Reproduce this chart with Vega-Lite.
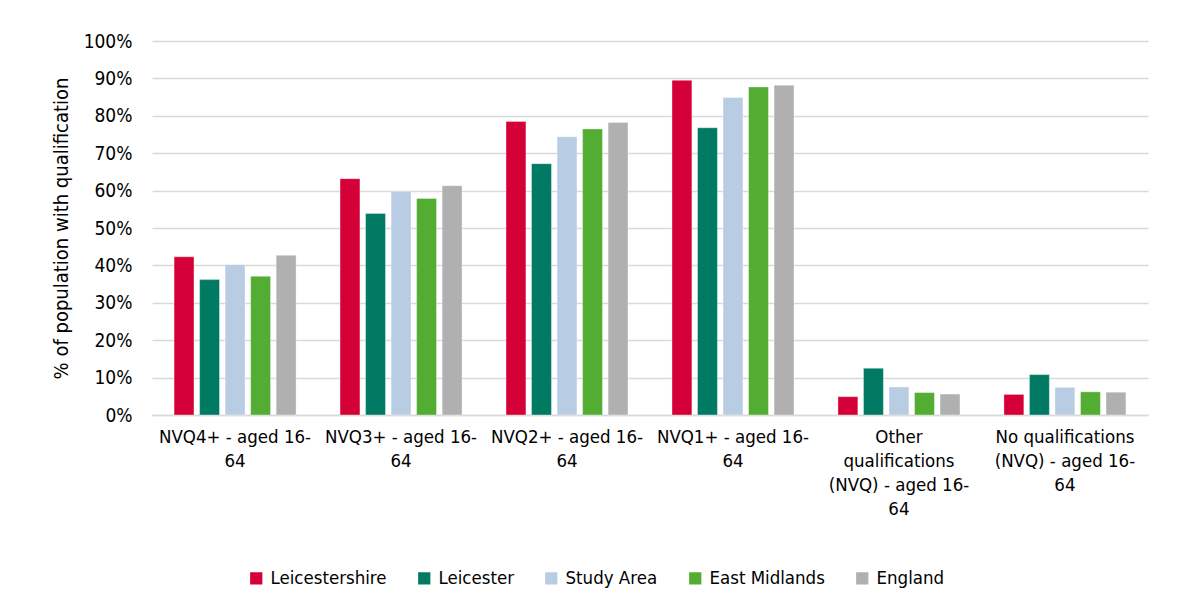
{
  "$schema": "https://vega.github.io/schema/vega-lite/v6.json",
  "width": 996,
  "height": 374,
  "autosize": {"type": "none"},
  "padding": {"left": 152, "top": 41, "right": 33, "bottom": 193},
  "background": "white",
  "config": {
    "font": "DejaVu Sans Condensed, Liberation Sans",
    "view": {"stroke": null},
    "axis": {"labelFont": "DejaVu Sans Condensed, Liberation Sans", "titleFont": "DejaVu Sans Condensed, Liberation Sans", "labelColor": "#000000", "titleColor": "#000000"},
    "legend": {"labelFont": "DejaVu Sans Condensed, Liberation Sans"}
  },
  "data": {
    "values": [
      {"cat": "NVQ4+ - aged 16-64", "area": "Leicestershire", "v": 42.3},
      {"cat": "NVQ4+ - aged 16-64", "area": "Leicester", "v": 36.2},
      {"cat": "NVQ4+ - aged 16-64", "area": "Study Area", "v": 40.2},
      {"cat": "NVQ4+ - aged 16-64", "area": "East Midlands", "v": 37.1},
      {"cat": "NVQ4+ - aged 16-64", "area": "England", "v": 42.7},
      {"cat": "NVQ3+ - aged 16-64", "area": "Leicestershire", "v": 63.2},
      {"cat": "NVQ3+ - aged 16-64", "area": "Leicester", "v": 53.9},
      {"cat": "NVQ3+ - aged 16-64", "area": "Study Area", "v": 59.8},
      {"cat": "NVQ3+ - aged 16-64", "area": "East Midlands", "v": 57.9},
      {"cat": "NVQ3+ - aged 16-64", "area": "England", "v": 61.3},
      {"cat": "NVQ2+ - aged 16-64", "area": "Leicestershire", "v": 78.5},
      {"cat": "NVQ2+ - aged 16-64", "area": "Leicester", "v": 67.2},
      {"cat": "NVQ2+ - aged 16-64", "area": "Study Area", "v": 74.4},
      {"cat": "NVQ2+ - aged 16-64", "area": "East Midlands", "v": 76.5},
      {"cat": "NVQ2+ - aged 16-64", "area": "England", "v": 78.2},
      {"cat": "NVQ1+ - aged 16-64", "area": "Leicestershire", "v": 89.5},
      {"cat": "NVQ1+ - aged 16-64", "area": "Leicester", "v": 76.8},
      {"cat": "NVQ1+ - aged 16-64", "area": "Study Area", "v": 84.9},
      {"cat": "NVQ1+ - aged 16-64", "area": "East Midlands", "v": 87.7},
      {"cat": "NVQ1+ - aged 16-64", "area": "England", "v": 88.2},
      {"cat": "Other qualifications (NVQ) - aged 16-64", "area": "Leicestershire", "v": 4.9},
      {"cat": "Other qualifications (NVQ) - aged 16-64", "area": "Leicester", "v": 12.5},
      {"cat": "Other qualifications (NVQ) - aged 16-64", "area": "Study Area", "v": 7.5},
      {"cat": "Other qualifications (NVQ) - aged 16-64", "area": "East Midlands", "v": 6.0},
      {"cat": "Other qualifications (NVQ) - aged 16-64", "area": "England", "v": 5.6},
      {"cat": "No qualifications (NVQ) - aged 16-64", "area": "Leicestershire", "v": 5.5},
      {"cat": "No qualifications (NVQ) - aged 16-64", "area": "Leicester", "v": 10.8},
      {"cat": "No qualifications (NVQ) - aged 16-64", "area": "Study Area", "v": 7.4},
      {"cat": "No qualifications (NVQ) - aged 16-64", "area": "East Midlands", "v": 6.2},
      {"cat": "No qualifications (NVQ) - aged 16-64", "area": "England", "v": 6.1}
    ]
  },
  "mark": {"type": "bar", "stroke": "#ffffff", "strokeWidth": 0.6, "strokeOpacity": 0.6},
  "encoding": {
    "x": {
      "field": "cat",
      "type": "nominal",
      "sort": null,
      "title": null,
      "scale": {"paddingInner": 0.265, "paddingOuter": 0.133},
      "axis": {
        "labelAngle": 0,
        "labelFontSize": 18.5,
        "labelLineHeight": 24,
        "labelPadding": 12,
        "labelLimit": 0,
        "ticks": false,
        "domainColor": "#d9d9d9",
        "domainWidth": 1.5,
        "labelExpr": "datum.value == 'NVQ4+ - aged 16-64' ? ['NVQ4+ - aged 16-', '64'] : datum.value == 'NVQ3+ - aged 16-64' ? ['NVQ3+ - aged 16-', '64'] : datum.value == 'NVQ2+ - aged 16-64' ? ['NVQ2+ - aged 16-', '64'] : datum.value == 'NVQ1+ - aged 16-64' ? ['NVQ1+ - aged 16-', '64'] : datum.value == 'Other qualifications (NVQ) - aged 16-64' ? ['Other', 'qualifications', '(NVQ) - aged 16-', '64'] : ['No qualifications', '(NVQ) - aged 16-', '64']"
      }
    },
    "xOffset": {
      "field": "area",
      "type": "nominal",
      "sort": ["Leicestershire", "Leicester", "Study Area", "East Midlands", "England"],
      "scale": {"paddingInner": 0.22, "paddingOuter": 0.0}
    },
    "y": {
      "field": "v",
      "type": "quantitative",
      "title": "% of population with qualification",
      "scale": {"domain": [0, 100], "nice": false},
      "axis": {
        "values": [0, 10, 20, 30, 40, 50, 60, 70, 80, 90, 100],
        "labelExpr": "datum.value + '%'",
        "labelFontSize": 19,
        "titleFontSize": 20,
        "titleFontWeight": "normal",
        "labelPadding": 20,
        "titlePadding": 12,
        "ticks": false,
        "domain": false,
        "gridColor": "#d9d9d9",
        "gridWidth": 1.5
      }
    },
    "color": {
      "field": "area",
      "type": "nominal",
      "sort": ["Leicestershire", "Leicester", "Study Area", "East Midlands", "England"],
      "scale": {
        "domain": ["Leicestershire", "Leicester", "Study Area", "East Midlands", "England"],
        "range": ["#d50037", "#007a63", "#b8cce4", "#53ad33", "#b0b0b0"]
      },
      "legend": {
        "title": null,
        "orient": "none",
        "direction": "horizontal",
        "legendX": 95,
        "legendY": 528,
        "symbolType": "square",
        "symbolSize": 150,
        "symbolStrokeWidth": 0,
        "labelFontSize": 18.5,
        "labelOffset": 5,
        "columnPadding": 28
      }
    }
  }
}
